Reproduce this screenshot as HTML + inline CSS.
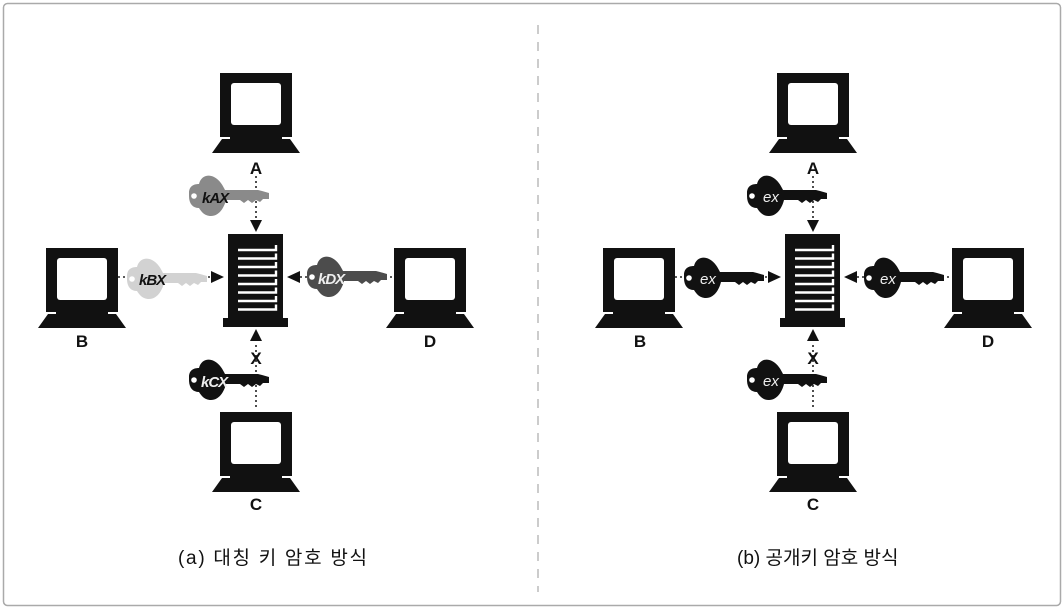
<!DOCTYPE html>
<html><head><meta charset="utf-8"><style>
html,body{margin:0;padding:0;background:#fff;}
svg{display:block;}
</style></head><body>
<svg width="1064" height="614" viewBox="0 0 1064 614" xmlns="http://www.w3.org/2000/svg">
<defs>
<g id="mon">
  <rect x="0" y="0" width="72" height="64" fill="#111"/>
  <rect x="11" y="10" width="50" height="42" rx="3" fill="#fff"/>
  <rect x="10" y="62" width="52" height="5" fill="#111"/>
  <polygon points="2,66 70,66 80,80 -8,80" fill="#111"/>
</g>
<g id="srv">
  <rect x="0" y="0" width="55" height="85" fill="#111"/>
  <rect x="-5" y="84" width="65" height="9" fill="#111"/>
  <g stroke="#fff" stroke-width="2.4" fill="none">
    <path d="M10 16 H48 V11"/><path d="M10 24.5 H48 V19.5"/><path d="M10 33 H48 V28"/>
    <path d="M10 41.5 H48 V36.5"/><path d="M10 50 H48 V45"/><path d="M10 58.5 H48 V53.5"/>
    <path d="M10 67 H48 V62"/><path d="M10 75.5 H48 V70.5"/>
  </g>
</g>
<g id="key">
  <path d="M1 -3 C1 -10 6 -12 11 -12 C13 -20 20 -22 26 -19 C32 -16 35 -10 37 -6 L70 -6 L74 -5 L81 -3 L81 3 L75 3 L72 6 L68 4 L64 7 L60 4 L56 7 L52 4 L38 4 C36 12 31 20 23 20 C16 20 13 15 11 12 C5 12 1 8 1 0 Z"/>
  <circle cx="6" cy="0" r="2.8" fill="#fff"/>
</g>
</defs>
<rect x="3.5" y="3.5" width="1057" height="602" rx="4" fill="#fff" stroke="#aaa" stroke-width="1.5"/>
<line x1="538" y1="25" x2="538" y2="592" stroke="#999" stroke-width="1" stroke-dasharray="9,8"/>

<g id="left">
  <g stroke="#222" stroke-width="1.6" stroke-dasharray="2,3">
    <line x1="256" y1="176" x2="256" y2="222"/>
    <line x1="118" y1="277" x2="212" y2="277"/>
    <line x1="300" y1="277" x2="394" y2="277"/>
    <line x1="256" y1="345" x2="256" y2="410"/>
  </g>
  <polygon points="250,220 262,220 256,232" fill="#111"/>
  <polygon points="211,271 211,283 224,277" fill="#111"/>
  <polygon points="300,271 300,283 287,277" fill="#111"/>
  <polygon points="250,341 262,341 256,329" fill="#111"/>
  <use href="#key" x="188" y="196" fill="#8a8a8a"/>
  <use href="#key" x="126" y="279" fill="#d2d2d2"/>
  <use href="#key" x="306" y="277" fill="#4c4c4c"/>
  <use href="#key" x="188" y="380" fill="#111"/>
  <g font-family="Liberation Sans, sans-serif" font-weight="bold" font-style="italic" font-size="15">
    <text x="202" y="203" fill="#111" letter-spacing="-1">kAX</text>
    <text x="139" y="285" fill="#111" letter-spacing="-1">kBX</text>
    <text x="318" y="284" fill="#eee" letter-spacing="-1">kDX</text>
    <text x="201" y="387" fill="#eee" letter-spacing="-1">kCX</text>
  </g>
  <use href="#mon" x="220" y="73"/>
  <use href="#mon" x="46" y="248"/>
  <use href="#mon" x="394" y="248"/>
  <use href="#mon" x="220" y="412"/>
  <use href="#srv" x="228" y="234"/>
  <g font-family="Liberation Sans, sans-serif" font-weight="bold" font-size="17" text-anchor="middle" fill="#111">
    <text x="256" y="174">A</text>
    <text x="82" y="347">B</text>
    <text x="430" y="347">D</text>
    <text x="256" y="364">X</text>
    <text x="256" y="510">C</text>
  </g>
  <text x="178" y="564" textLength="189" lengthAdjust="spacing" font-family="Liberation Sans, 'Noto Sans CJK KR', sans-serif" font-size="19" fill="#111">(a) 대칭 키 암호 방식</text>
</g>

<g id="right">
  <g stroke="#222" stroke-width="1.6" stroke-dasharray="2,3">
    <line x1="813" y1="176" x2="813" y2="222"/>
    <line x1="675" y1="277" x2="769" y2="277"/>
    <line x1="857" y1="277" x2="951" y2="277"/>
    <line x1="813" y1="345" x2="813" y2="410"/>
  </g>
  <polygon points="807,220 819,220 813,232" fill="#111"/>
  <polygon points="768,271 768,283 781,277" fill="#111"/>
  <polygon points="857,271 857,283 844,277" fill="#111"/>
  <polygon points="807,341 819,341 813,329" fill="#111"/>
  <g fill="#111">
    <use href="#key" x="746" y="196"/>
    <use href="#key" x="683" y="278"/>
    <use href="#key" x="863" y="278"/>
    <use href="#key" x="746" y="380"/>
  </g>
  <g font-family="Liberation Sans, sans-serif" font-style="italic" font-size="15" fill="#eee">
    <text x="763" y="202">ex</text>
    <text x="700" y="284">ex</text>
    <text x="880" y="284">ex</text>
    <text x="763" y="386">ex</text>
  </g>
  <use href="#mon" x="777" y="73"/>
  <use href="#mon" x="603" y="248"/>
  <use href="#mon" x="952" y="248"/>
  <use href="#mon" x="777" y="412"/>
  <use href="#srv" x="785" y="234"/>
  <g font-family="Liberation Sans, sans-serif" font-weight="bold" font-size="17" text-anchor="middle" fill="#111">
    <text x="813" y="174">A</text>
    <text x="640" y="347">B</text>
    <text x="988" y="347">D</text>
    <text x="813" y="364">X</text>
    <text x="813" y="510">C</text>
  </g>
  <text x="737" y="564" font-family="Liberation Sans, 'Noto Sans CJK KR', sans-serif" font-size="19" fill="#111">(b) 공개키 암호 방식</text>
</g>
</svg>
</body></html>
